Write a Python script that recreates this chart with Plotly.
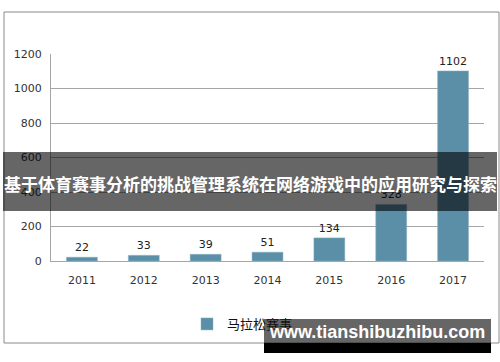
import plotly.graph_objects as go

years = ["2011", "2012", "2013", "2014", "2015", "2016", "2017"]
marathon_events = [22, 33, 39, 51, 134, 328, 1102]
series_name = "马拉松赛事"
y_ticks = [0, 200, 400, 600, 800, 1000, 1200]
banner_title = "基于体育赛事分析的挑战管理系统在网络游戏中的应用研究与探索"
watermark = "www.tianshibuzhibu.com"

W, H = 500, 362
L, R, T, B = 51, 16, 54, 101
pw, ph = W - L - R, H - T - B


def px(x):
    return (x - L) / pw


def py(y):
    return (H - B - y) / ph


fig = go.Figure()
fig.add_trace(go.Bar(
    x=years, y=marathon_events, name=series_name,
    marker=dict(color="#5b8fa7", line=dict(color="#8fb3c4", width=0.5)),
    text=[str(v) for v in marathon_events], textposition="outside",
    textfont=dict(size=11, color="#222", family="DejaVu Sans"),
    cliponaxis=False,
))

shapes = [
    dict(type="rect", xref="paper", yref="paper", x0=px(4), x1=px(499), y0=py(12), y1=py(343),
         line=dict(color="#8a8a8a", width=1), fillcolor="rgba(0,0,0,0)", layer="below"),
    dict(type="rect", xref="paper", yref="paper", x0=px(3), x1=px(497), y0=py(152), y1=py(211),
         line=dict(width=0), fillcolor="rgba(0,0,0,0.6)", layer="above"),
    dict(type="rect", xref="paper", yref="paper", x0=px(264), x1=px(491), y0=py(319), y1=py(343),
         line=dict(width=0), fillcolor="rgba(0,0,0,0.6)", layer="above"),
    dict(type="rect", xref="paper", yref="paper", x0=px(264), x1=px(491), y0=py(343), y1=py(353),
         line=dict(width=0), fillcolor="#000", layer="above"),
]

annotations = [
    dict(text=banner_title, xref="paper", yref="paper", x=px(250), y=py(183),
         xanchor="center", yanchor="middle", showarrow=False,
         font=dict(size=17, color="white", family="Noto Sans CJK SC", weight="bold")),
    dict(text=watermark, xref="paper", yref="paper", x=px(377), y=py(332),
         xanchor="center", yanchor="middle", showarrow=False,
         font=dict(size=18, color="white", family="Liberation Sans", weight="bold")),
]

fig.update_layout(
    width=W, height=H,
    margin=dict(l=L, r=R, t=T, b=B),
    paper_bgcolor="white", plot_bgcolor="white",
    bargap=0.5,
    showlegend=True,
    legend=dict(orientation="h", x=px(187), y=py(324), xanchor="left", yanchor="middle",
                font=dict(size=13, color="#111", family="Noto Sans CJK SC"),
                itemwidth=30, bgcolor="rgba(0,0,0,0)"),
    shapes=shapes,
    annotations=annotations,
    xaxis=dict(showline=True, linecolor="#a6a6a6", linewidth=1, showgrid=False,
               ticks="outside", ticklen=9, tickcolor="rgba(0,0,0,0)",
               tickfont=dict(size=11, color="#333", family="DejaVu Sans")),
    yaxis=dict(range=[0, 1200], tickvals=y_ticks, showline=True, linecolor="#a6a6a6", linewidth=1,
               showgrid=True, gridcolor="#a6a6a6", gridwidth=1, zeroline=False,
               ticks="outside", ticklen=6, tickcolor="rgba(0,0,0,0)",
               tickfont=dict(size=11, color="#333", family="DejaVu Sans")),
)

fig.write_html("out.html", config={"displayModeBar": False},
               post_script="document.body.style.margin='0';document.body.style.overflow='hidden';")
